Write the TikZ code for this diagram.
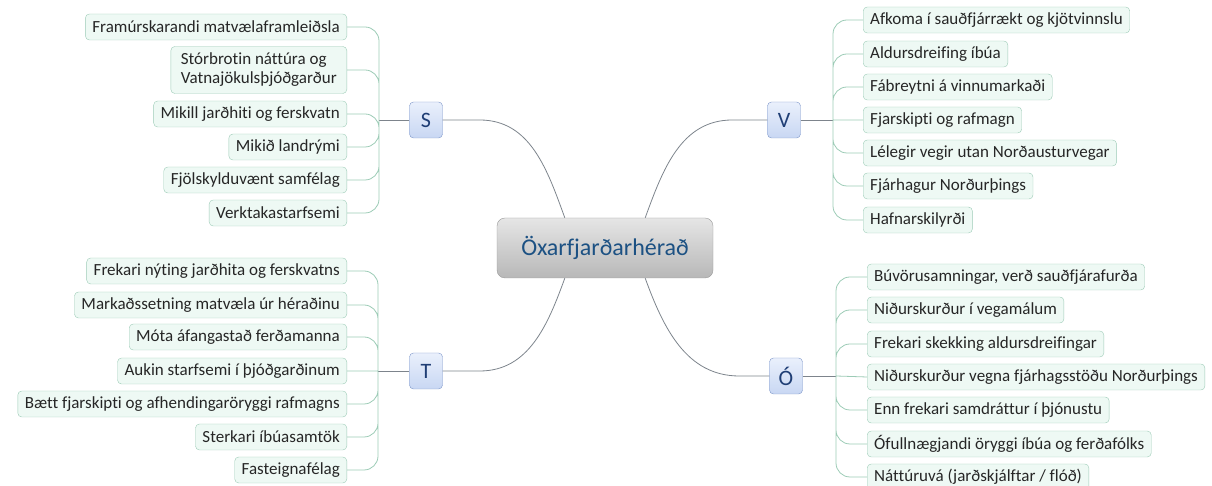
\documentclass[tikz,border=0pt]{standalone}
\usepackage{fontspec}
\setmainfont{Carlito}[Ligatures=NoCommon]
\definecolor{leafline}{HTML}{9CCBB6}
\definecolor{leaffill}{HTML}{EEF9F4}
\definecolor{trunkline}{HTML}{7D848C}
\definecolor{keyline}{HTML}{7D96C9}
\definecolor{keytop}{HTML}{EAF0FC}
\definecolor{keybottom}{HTML}{C8D7F3}
\definecolor{keytext}{HTML}{1F3E75}
\begin{document}
\begin{tikzpicture}[x=1pt,y=1pt,
  leaf/.style={draw=leafline, fill=leaffill, rounded corners=4pt, minimum height=26pt, inner xsep=7pt, inner ysep=2pt, text=black!85, font=\fontsize{17}{19}\selectfont},
  key/.style={draw=keyline, top color=keytop, bottom color=keybottom, rounded corners=4pt, minimum width=33pt, minimum height=36pt, inner sep=2pt, text=keytext, font=\fontsize{22}{24}\selectfont},
  trunk/.style={draw=trunkline, line width=0.8pt},
  twig/.style={draw=leafline, line width=0.8pt, rounded corners=14pt}]
  \useasboundingbox (0,0) rectangle (1212,486);
  \node[draw=black!40, top color=black!10, bottom color=black!28, rounded corners=8pt, minimum width=216pt, minimum height=60pt, text=keytext!90!cyan, font=\fontsize{24}{26}\selectfont] (c) at (605,238) {Öxarfjarðarhérað};
  \node[key] (s) at (426,366) {S};
  \node[key] (v) at (784,366) {V};
  \node[key] (t) at (426,115) {T};
  \node[key] (o) at (786,110) {Ó};
  % S
  \node[leaf, anchor=east] (s1) at (347,459) {Framúrskarandi matvælaframleiðsla};
  \node[leaf, anchor=east, align=left, minimum height=47pt, inner xsep=10pt] (s2) at (347,416) {Stórbrotin náttúra og\\Vatnajökulsþjóðgarður};
  \node[leaf, anchor=east] (s3) at (347,372) {Mikill jarðhiti og ferskvatn};
  \node[leaf, anchor=east] (s4) at (347,339) {Mikið landrými};
  \node[leaf, anchor=east] (s5) at (347,306) {Fjölskylduvænt samfélag};
  \node[leaf, anchor=east] (s6) at (347,273) {Verktakastarfsemi};
  % V
  \node[leaf, anchor=west] (v1) at (863,466) {Afkoma í sauðfjárrækt og kjötvinnslu};
  \node[leaf, anchor=west] (v2) at (863,432) {Aldursdreifing íbúa};
  \node[leaf, anchor=west] (v3) at (863,399) {Fábreytni á vinnumarkaði};
  \node[leaf, anchor=west] (v4) at (863,366) {Fjarskipti og rafmagn};
  \node[leaf, anchor=west] (v5) at (863,333) {Lélegir vegir utan Norðausturvegar};
  \node[leaf, anchor=west] (v6) at (863,300) {Fjárhagur Norðurþings};
  \node[leaf, anchor=west] (v7) at (863,266) {Hafnarskilyrði};
  % T
  \node[leaf, anchor=east] (t1) at (347,215) {Frekari nýting jarðhita og ferskvatns};
  \node[leaf, anchor=east] (t2) at (347,181) {Markaðssetning matvæla úr héraðinu};
  \node[leaf, anchor=east] (t3) at (347,149) {Móta áfangastað ferðamanna};
  \node[leaf, anchor=east] (t4) at (347,115) {Aukin starfsemi í þjóðgarðinum};
  \node[leaf, anchor=east] (t5) at (347,82) {Bætt fjarskipti og afhendingaröryggi rafmagns};
  \node[leaf, anchor=east] (t6) at (347,49) {Sterkari íbúasamtök};
  \node[leaf, anchor=east] (t7) at (347,16) {Fasteignafélag};
  % O
  \node[leaf, anchor=west] (o1) at (867,209) {Búvörusamningar, verð sauðfjárafurða};
  \node[leaf, anchor=west] (o2) at (867,176) {Niðurskurður í vegamálum};
  \node[leaf, anchor=west] (o3) at (867,142) {Frekari skekking aldursdreifingar};
  \node[leaf, anchor=west] (o4) at (867,109) {Niðurskurður vegna fjárhagsstöðu Norðurþings};
  \node[leaf, anchor=west] (o5) at (867,76) {Enn frekari samdráttur í þjónustu};
  \node[leaf, anchor=west] (o6) at (867,42) {Ófullnægjandi öryggi íbúa og ferðafólks};
  \node[leaf, anchor=west] (o7) at (867,9) {Náttúruvá (jarðskjálftar / flóð)};
  \coordinate (sj) at (379,366);
  \coordinate (vj) at (833,366);
  \coordinate (tj) at (378,115);
  \coordinate (oj) at (836,110);
  % main branches
  \draw[trunk] (s.east) -- ++(37,0) to[out=0,in=110] ([xshift=68pt]c.north west);
  \draw[trunk] (v.west) -- ++(-35,0) to[out=180,in=70] ([xshift=-68pt]c.north east);
  \draw[trunk] (t.east) -- ++(37,0) to[out=0,in=-110] ([xshift=68pt]c.south west);
  \draw[trunk] (o.west) -- ++(-30,0) to[out=180,in=-70] ([xshift=-68pt]c.south east);
  \draw[trunk] (s.west) -- (sj) (v.east) -- (vj) (t.west) -- (tj) (o.east) -- (oj);
  % twigs
  \draw[twig] (sj) |- (s1.east) (sj) |- (s2.east) (sj) |- (s3.east) (sj) |- (s4.east) (sj) |- (s5.east) (sj) |- (s6.east);
  \draw[twig] (vj) |- (v1.west) (vj) |- (v2.west) (vj) |- (v3.west) (vj) -- (v4.west) (vj) |- (v5.west) (vj) |- (v6.west) (vj) |- (v7.west);
  \draw[twig] (tj) |- (t1.east) (tj) |- (t2.east) (tj) |- (t3.east) (tj) -- (t4.east) (tj) |- (t5.east) (tj) |- (t6.east) (tj) |- (t7.east);
  \draw[twig] (oj) |- (o1.west) (oj) |- (o2.west) (oj) |- (o3.west) (oj) -- (o4.west) (oj) |- (o5.west) (oj) |- (o6.west) (oj) |- (o7.west);
\end{tikzpicture}
\end{document}
